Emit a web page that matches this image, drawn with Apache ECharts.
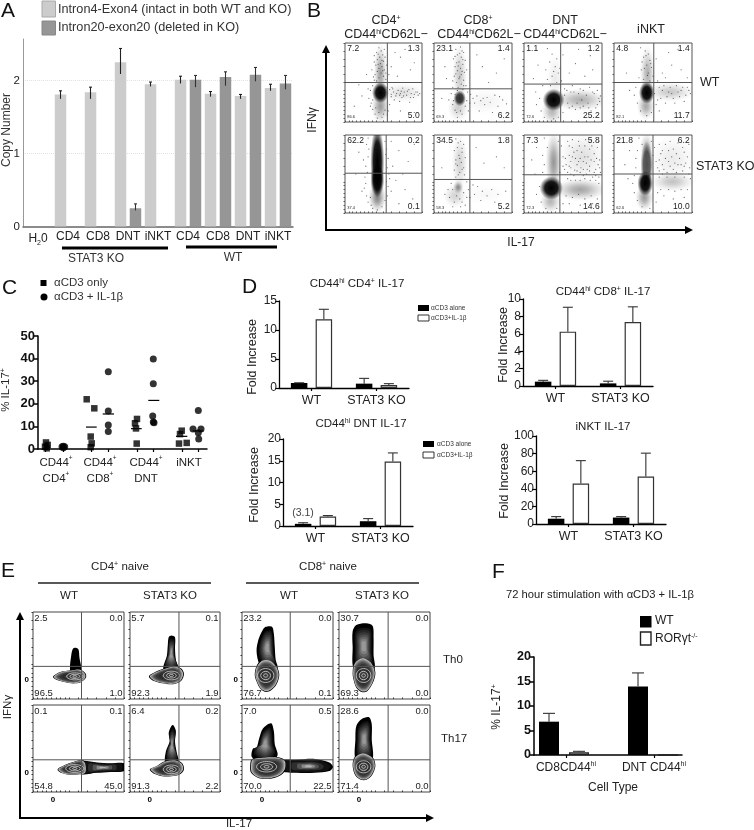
<!DOCTYPE html>
<html><head><meta charset="utf-8">
<style>html,body{margin:0;padding:0;background:#fff}#c{width:754px;height:830px}#c canvas{filter:blur(.35px)}</style>
<script src="https://cdn.jsdelivr.net/npm/echarts@6/dist/echarts.min.js"></script>
</head><body><div id="c"></div>
<script>
/* ---------- Panel A ---------- */
const aCats=['H{sub|2}0','CD4','CD8','DNT','iNKT','CD4','CD8','DNT','iNKT'];
const aIntron4=[null,1.81,1.84,2.25,1.95,2.01,1.82,1.79,1.90];
const aIntron4Low=[null,1.75,1.75,2.09,1.92,1.96,1.78,1.75,1.86];
const aIntron4High=[null,1.86,1.91,2.44,1.98,2.06,1.85,1.81,1.95];
const aIntron20=[null,null,null,0.25,null,2.01,2.05,2.08,1.96];
const aIntron20Low=[null,null,null,0.22,null,1.91,1.93,1.99,1.88];
const aIntron20High=[null,null,null,0.31,null,2.07,2.12,2.18,2.07];
/* ---------- Panel C ---------- */
const cSquares=[[8,2.9],[7,1],[9.7,1.8],[8.7,.3],[48.7,22],[56.3,18],[52.7,5.5],[53.7,2.5],[52.7,.8],[99,13.3],[97,11.4],[98,9.1],[98.7,2.4],[143.7,8.1],[142,6.6],[141,2.4],[148.7,2.7]];
const cCircles=[[25.3,1.2],[24,1],[26.7,1],[25.3,.6],[70.3,34.2],[70.3,16.8],[70.3,10.6],[70.3,7.7],[115.3,39.8],[115.3,28.9],[114.7,14.6],[115.3,12],[116,11.6],[160.3,17],[155,8.8],[163,8.8],[160.3,7.2],[160.7,4.4]];
const cMeans=[[48,58.7,9.7],[64.7,76,15.5],[93,103.7,9],[110.3,121.3,21.5],[138,149.3,5.6],[154.7,165.3,8]];
const cTickPos=[7,25,53,70,99,115,144,160];
const cLabelPos=[18,62,108,151];
const cLabels=['CD44{s|+}\nCD4{s|+}','CD44{s|+}\nCD8{s|+}','CD44{s|+}\nDNT','iNKT'];
/* ---------- Panel D ---------- */
const dCats=['WT','STAT3 KO'];
const d1Alone=[.86,.75], d1AloneErr=[.9,1.66], d1Plus=[11.85,.5], d1PlusErr=[13.57,.75];
const d2Alone=[.5,1.1], d2AloneErr=[.75,1.7], d2Plus=[2.2,14.8], d2PlusErr=[2.4,16.8];
const d3Alone=[.5,.3], d3AloneErr=[.65,.55], d3Plus=[6.25,7.35], d3PlusErr=[9.05,9.1];
const d4Alone=[6,7.3], d4AloneErr=[8.4,8.4], d4Plus=[46,54], d4PlusErr=[72,80.5];
/* ---------- Panel F ---------- */
const fWT=[[15,6.8],[104,14]], fWTErr=[8.5,16.75];
const fRor=[[45,.55],[134,0]], fRorErr=[.75,0];
const fLabelPos=[32,120];
const fLabels=['CD8CD44{s|hi}','DNT CD44{s|hi}'];
/* ---------- Panel B: gates, quadrant percentages, density patches [x,y,rx,ry,alpha], events [x,y] ---------- */
const bGates=[[55,50],[46,42],[47,48],[51,50],[53.5,51],[46,43],[46,49],[50,50]];
const bPct=[['7.2','1.3','5.0','86.6'],['23.1','1.4','6.2','69.3'],['1.1','1.2','25.2','72.6'],['4.8','1.4','11.7','82.1'],
 ['62.2','0.2','0.1','37.4'],['34.5','1.8','5.2','58.3'],['7.3','5.8','14.6','72.3'],['21.8','6.2','10.0','62.6']];
const bPatch1=[[46,62,9,40,.38],[46,20,12,22,.4],[75,37,30,13,.13],[46,37,11,13,1]];
const bPatch2=[[33,60,10,42,.22],[31,18,14,18,.2],[65,26,34,18,.05],[33,30,8,10,.8]];
const bPatch3=[[40,55,12,34,.08],[36,14,14,18,.3],[72,28,36,15,.32],[38,28,14,14,1]];
const bPatch4=[[43,62,10,36,.32],[41,20,12,18,.35],[72,38,32,13,.22],[42,37,10,14,1]];
const bPatch5=[[42,20,12,20,.5],[42,66,9,46,1],[42,42,9,22,1]];
const bPatch6=[[33,65,11,38,.18],[27,22,16,16,.18],[65,24,32,14,.03],[31,33,7,9,.45]];
const bPatch7=[[75,72,33,34,.12],[72,30,36,15,.36],[38,65,11,42,.42],[34,15,14,16,.3],[35,32,15,15,1]];
const bPatch8=[[75,70,32,32,.08],[75,40,30,13,.24],[42,85,9,19,.25],[39,20,12,18,.4],[42,62,8,30,.7],[40,38,10,16,1]];
const bDots1=[[44,94],[47,90],[41,88],[49,85],[45,82],[42,79],[50,77],[46,74],[40,72],[48,70],[44,68],[51,66],[42,64],[47,62],[39,60],[50,58],[44,56],[53,54],[38,53],[36,46],[55,44],[33,40],[58,41],[60,35],[63,38],[66,33],[69,40],[72,36],[74,31],[77,38],[80,34],[83,41],[86,36],[89,31],[92,38],[95,34],[64,28],[71,26],[84,25],[58,22],[34,24],[36,16],[52,15],[39,10],[48,6],[44,12],[55,9],[60,70],[72,82],[85,66],[68,58],[90,75],[78,92],[65,88],[28,60],[22,33],[18,47],[12,20],[90,12],[72,14],[38,84],[51,92],[54,72],[35,66],[57,60],[31,30],[30,42],[61,44],[75,43],[88,42],[43,86],[48,78],[52,82],[38,76],[43,73],[49,65],[37,57],[53,62],[41,52],[36,28],[33,20],[40,18],[50,10],[42,5],[56,14],[62,42],[67,36],[71,34],[76,33],[81,39],[85,31],[90,35],[94,38],[60,32],[73,39],[97,36]];
const bDots2=[[28,92],[34,95],[38,88],[30,85],[35,82],[25,80],[40,78],[32,76],[37,73],[27,70],[34,68],[30,65],[39,63],[35,60],[26,58],[32,55],[38,53],[29,50],[35,48],[41,46],[24,44],[31,44],[37,41],[43,38],[47,35],[22,36],[19,28],[24,22],[27,15],[40,20],[44,14],[36,10],[30,6],[50,30],[55,33],[60,27],[65,22],[68,31],[72,25],[78,34],[82,20],[88,28],[93,23],[58,14],[75,12],[62,70],[80,62],[70,50],[90,80],[55,85],[14,70],[10,30],[16,55],[36,90],[29,75],[42,66],[33,87],[27,83],[37,79],[31,71],[36,64],[28,61],[33,57],[24,52],[38,46],[30,40],[27,35],[25,27],[29,12],[34,14],[42,27],[46,24],[52,24],[63,30],[84,32]];
const bDots3=[[30,93],[36,86],[42,80],[33,76],[40,70],[28,66],[44,62],[36,58],[30,54],[42,50],[24,46],[48,52],[58,62],[66,74],[78,58],[88,66],[62,46],[72,42],[84,44],[94,40],[52,42],[58,18],[66,16],[76,20],[86,14],[94,22],[70,36],[80,34],[90,36],[60,38],[20,30],[16,22],[22,14],[26,6],[44,6],[38,4],[50,12],[15,38],[12,55],[18,72],[50,85],[70,92],[85,84],[96,30],[46,68],[56,24],[68,24],[82,24],[92,18],[74,28],[52,34],[55,40],[64,38],[76,40],[88,38],[98,33],[62,20],[72,18],[83,18],[97,26],[38,64],[34,46]];
const bDots4=[[34,94],[40,90],[44,86],[38,82],[46,78],[36,76],[42,72],[48,69],[35,66],[44,62],[50,58],[32,56],[38,54],[46,52],[28,44],[26,34],[30,24],[34,14],[42,8],[48,12],[54,22],[60,30],[64,46],[68,32],[72,44],[76,30],[80,46],[84,32],[88,44],[92,34],[96,40],[58,44],[56,52],[66,24],[78,24],[90,26],[62,62],[74,72],[86,66],[70,88],[82,92],[94,56],[54,80],[20,40],[16,62],[52,36],[70,38],[82,38],[66,56],[58,14],[41,84],[47,74],[39,68],[43,59],[62,40],[74,36],[86,40],[94,44],[98,36],[56,28]];
const bDots5=[[30,96],[52,92],[54,82],[28,88],[56,70],[30,72],[27,60],[55,58],[58,44],[26,46],[25,32],[56,34],[60,28],[28,22],[30,14],[52,16],[48,8],[36,6],[42,4],[62,60],[70,80],[82,66],[90,88],[66,42],[78,30],[88,18],[70,12],[18,78],[14,50],[22,28],[60,92],[75,50],[34,10],[55,22],[24,68],[57,50],[31,82],[53,75],[29,52],[54,40],[27,38],[33,20]];
const bDots6=[[28,95],[34,92],[38,88],[30,84],[26,80],[36,78],[32,74],[40,71],[28,68],[35,65],[30,61],[38,58],[26,55],[33,52],[39,49],[28,46],[35,43],[42,40],[22,38],[18,30],[14,24],[20,20],[26,14],[33,18],[38,26],[44,30],[50,36],[56,34],[62,28],[68,22],[74,30],[82,24],[92,28],[60,16],[78,14],[64,64],[80,72],[90,58],[54,84],[10,58],[40,10],[34,8],[24,8],[46,20],[31,90],[36,83],[33,70],[28,63],[36,56],[31,49],[24,30],[29,22],[36,14],[42,20],[52,24]];
const bDots7=[[26,96],[44,92],[30,84],[48,86],[24,74],[50,72],[26,62],[50,60],[24,52],[46,52],[56,92],[62,84],[70,92],[78,86],[86,94],[94,84],[58,74],[66,70],[74,78],[82,72],[90,76],[97,68],[54,62],[60,58],[68,62],[76,56],[84,60],[92,56],[98,52],[56,52],[64,48],[72,52],[80,50],[88,46],[96,46],[54,22],[62,20],[70,24],[78,18],[86,22],[94,18],[58,12],[72,10],[88,12],[20,34],[16,24],[22,14],[28,6],[42,6],[50,12],[14,50],[10,68],[16,84],[68,80],[80,64],[60,66],[72,70],[90,66],[62,94],[76,66],[84,82],[96,92],[56,44],[66,42],[78,44],[92,42],[58,86],[64,78],[71,86],[79,94],[87,86],[93,70],[53,70],[62,72],[70,66],[78,72],[86,68],[95,62],[58,60],[65,55],[73,58],[81,56],[90,52],[97,58],[52,56],[60,50],[68,54],[76,48],[84,54],[92,48],[60,42],[72,42],[85,42],[96,38]];
const bDots8=[[32,96],[48,92],[36,88],[52,84],[30,80],[50,74],[28,70],[54,66],[28,58],[56,58],[26,48],[24,38],[26,26],[30,16],[36,8],[46,6],[54,14],[56,26],[58,54],[62,62],[68,52],[72,60],[76,82],[80,52],[84,70],[88,54],[92,64],[96,50],[60,76],[66,88],[74,72],[82,90],[90,78],[96,88],[62,50],[70,30],[78,28],[86,30],[94,30],[64,22],[76,18],[90,20],[18,44],[14,62],[20,80],[66,70],[78,64],[86,62],[58,88],[72,92],[94,72],[60,30],[58,68],[64,56],[70,66],[76,56],[82,62],[90,60],[97,58],[62,80],[70,80],[80,76],[88,84],[58,46],[68,46],[78,46],[90,46],[98,44]];
/* ---------- Panel E: gates, percentages, contour outlines, ring centres [x,y,rx,ry] ---------- */
const eGates=[[53.3,37.5],[54.4,37.5],[53,37.5],[54,37.5],[53.3,37],[54.4,37],[53,37],[54,37]];
const ePct=[['2.5','0.0','1.0','96.5'],['5.7','0.1','1.9','92.3'],['23.2','0.0','0.1','76.7'],['30.7','0.0','0.0','69.3'],
 ['0.1','0.1','45.0','54.8'],['6.4','0.2','2.2','91.3'],['7.0','0.5','22.5','70.0'],['28.6','0.0','0.0','71.4']];
const eCol1=[[41,32],[42,50],[44,58],[47,59],[50,57],[51,48],[53,32],[47,25]];
const eCore1=[[22,26],[30,31],[42,33],[52,34],[58,29],[58,24],[52,19],[42,18],[32,20],[24,23]];
const eRing1=[[46,26,9,4]];
const eCol2=[[37,34],[41,50],[42,62],[43,71],[46,73],[50,71],[50,58],[51,45],[54,34],[46,26]];
const eCore2=[[21,26],[28,31],[38,35],[50,38],[57,35],[60,29],[57,21],[48,17],[36,18],[26,21]];
const eRing2=[[46,27,9,5]];
const eCol3=[[19,40],[16,55],[18,68],[22,78],[26,83],[33,83],[35,75],[36,60],[37,45],[39,35],[26,30]];
const eCore3=[[14,28],[16,38],[22,45],[31,45],[38,38],[41,28],[38,17],[32,10],[26,8],[20,12],[16,20]];
const eRing3=[[26,27,9,8]];
const eCol4=[[16,35],[15,60],[15,78],[19,85],[30,87],[37,84],[38,70],[38,50],[39,35],[27,28]];
const eCore4=[[15,30],[17,42],[26,48],[36,42],[40,30],[37,18],[31,9],[25,8],[19,13],[16,22]];
const eRing4=[[27,27,8,8]];
const eCore5=[[27,26],[35,31],[46,35],[54,37],[58,33],[58,22],[48,20],[38,20],[31,22]];
const eTail5=[[52,35],[70,34],[85,33],[100,33],[100,24],[85,23],[70,22],[52,21]];
const eRing5=[[46,27,10,4.5]];
const eCol6=[[39,34],[40,47],[44,58],[43,68],[46,76],[48,77],[51,70],[50,58],[52,45],[54,34],[46,26]];
const eCore6=[[22,26],[30,30],[38,35],[50,37],[58,33],[60,26],[55,20],[46,18],[36,18],[27,21]];
const eRing6=[[46,26,9,5]];
const eCol7=[[11,40],[12,50],[16,51],[19,62],[23,73],[32,79],[35,70],[36,55],[39,42],[27,30]];
const eCore7=[[9,30],[11,38],[25,40],[40,40],[48,36],[48,26],[42,19],[30,15],[18,16],[10,22]];
const eTail7=[[44,36],[60,37],[80,38],[96,34],[100,29],[96,24],[80,22],[60,22],[44,24]];
const eRing7=[[27,29,11,6]];
const eCol8=[[18,38],[18,60],[19,76],[25,84],[33,86],[36,78],[36,60],[37,38],[27,30]];
const eCore8=[[15,30],[17,40],[26,45],[37,40],[40,30],[36,19],[30,14],[24,14],[18,19]];
const eRing8=[[27,29,8,7]];

/* ---------- helpers ---------- */
const FF='Liberation Sans, Arial, sans-serif';
const RICH={s:{fontSize:7,fontFamily:FF,fill:'#222',verticalAlign:'top',lineHeight:13}};
function T(x,y,text,o){o=o||{};return {type:'text',x:x,y:y,rotation:o.rot||0,silent:true,z:50,style:{text:text,fill:o.c||'#222',
  fontFamily:o.f||FF,fontSize:o.s||12,fontWeight:o.w||'normal',align:o.a||'center',textAlign:o.a||'center',verticalAlign:'middle',textVerticalAlign:'middle',rich:RICH}};}
function R(x,y,w,h,fill,stroke,lw){return {type:'rect',silent:true,z:50,shape:{x:x,y:y,width:w,height:h},style:{fill:fill,stroke:stroke||null,lineWidth:lw||0}};}
function Ln(x1,y1,x2,y2,lw,c){return {type:'line',silent:true,z:50,shape:{x1:x1,y1:y1,x2:x2,y2:y2},style:{stroke:c||'#000',lineWidth:lw}};}
function Arrow(x1,y1,x2,y2){const s=[];s.push(Ln(x1,y1,x2,y2,2));
  const dx=Math.sign(x2-x1),dy=Math.sign(y2-y1);
  const pts=dx?[[x2+dx*2,y2],[x2-dx*6,y2-4],[x2-dx*6,y2+4]]:[[x2,y2+dy*2],[x2-4,y2-dy*6],[x2+4,y2-dy*6]];
  s.push({type:'polygon',silent:true,z:50,shape:{points:pts},style:{fill:'#000'}});return s;}
const grids=[],xAxes=[],yAxes=[],series=[];
function addGrid(l,t,r,b,x,y,extra){const i=grids.length;grids.push(Object.assign({left:l,top:t,width:r-l,height:b-t,containLabel:false},extra||{}));
  xAxes.push(Object.assign({gridIndex:i},x));yAxes.push(Object.assign({gridIndex:i},y));return i;}
function errSeries(i,data,off,col,capW){const d=data.filter(e=>e[2]!=null&&e[2]>e[1]);
  return {type:'custom',xAxisIndex:i,yAxisIndex:i,silent:true,z:5,data:d,encode:{x:0,y:2},
   renderItem:function(p,api){const e=d[p.dataIndex];const a=api.coord([e[0],e[1]]),b=api.coord([e[0],e[2]]);const x=a[0]+off;const w=capW||2.5;
     const st={stroke:col||'#222',lineWidth:1.1};
     return {type:'group',children:[{type:'line',shape:{x1:x,y1:a[1],x2:x,y2:b[1]},style:st},{type:'line',shape:{x1:x-w,y1:b[1],x2:x+w,y2:b[1]},style:st}]};}};}

/* ---------- Panel A chart ---------- */
const iA=addGrid(23,39,293,226.5,
 {type:'category',data:aCats,axisLine:{lineStyle:{color:'#666',width:1.5}},axisTick:{show:false},
  axisLabel:{interval:0,fontSize:12,fontFamily:FF,color:'#222',margin:4,rich:{sub:{fontSize:7,fontFamily:FF,color:'#222',verticalAlign:'bottom',lineHeight:16}}}},
 {type:'value',min:0,max:2.57,interval:1,axisLine:{show:true,onZero:false,lineStyle:{color:'#999',width:1}},axisTick:{show:false},
  axisLabel:{customValues:[0,1,2],fontSize:11.5,fontFamily:FF,color:'#222',margin:3},
  splitLine:{show:true,showMinLine:false,showMaxLine:false,lineStyle:{color:'#e2e2e2',type:'dotted',width:1}}});
series.push({type:'bar',xAxisIndex:iA,yAxisIndex:iA,data:aIntron4,barWidth:11.5,barGap:'30%',itemStyle:{color:'#cccccc'},silent:true});
series.push({type:'bar',xAxisIndex:iA,yAxisIndex:iA,data:aIntron20,barWidth:11.5,barGap:'30%',itemStyle:{color:'#969696'},silent:true});
series.push(errSeries(iA,aIntron4.map((v,k)=>[k,aIntron4Low[k],aIntron4High[k]]),-7.5,'#222',1.5));
series.push(errSeries(iA,aIntron20.map((v,k)=>[k,aIntron20Low[k],aIntron20High[k]]),7.5,'#333',1.5));

/* ---------- flow panels ---------- */
const bAreas=[[345,43,422,122],[434,43,512,122],[524,43,602,122],[614,43,692,122],[345,135,422,213],[434,135,512,213],[524,135,602,213],[614,135,692,213]];
const bPatches=[bPatch1,bPatch2,bPatch3,bPatch4,bPatch5,bPatch6,bPatch7,bPatch8];
const bDots=[bDots1,bDots2,bDots3,bDots4,bDots5,bDots6,bDots7,bDots8];
const solidFill={type:'radial',x:.5,y:.5,r:.5,colorStops:[{offset:0,color:'rgba(0,0,0,1)'},{offset:.55,color:'rgba(0,0,0,.9)'},{offset:.82,color:'rgba(0,0,0,.35)'},{offset:1,color:'rgba(0,0,0,0)'}]};
const hazeFill={type:'radial',x:.5,y:.5,r:.5,colorStops:[{offset:0,color:'rgba(0,0,0,1)'},{offset:.3,color:'rgba(0,0,0,.75)'},{offset:.6,color:'rgba(0,0,0,.35)'},{offset:.85,color:'rgba(0,0,0,.08)'},{offset:1,color:'rgba(0,0,0,0)'}]};
const flowTicks=[0,5,10,15,20,25,30,35,40,50,60,70,80,90,100];
function flowAxes(lblX,lblY,len,col){
 return [{type:'value',min:0,max:100,axisLine:{show:false},splitLine:{show:false},axisTick:{show:true,inside:true,length:len,customValues:flowTicks,lineStyle:{color:col||'#444',width:1}},
   axisLabel:lblX?{show:true,customValues:[22],formatter:()=>'0',fontSize:8,fontWeight:'bold',fontFamily:FF,color:'#000',margin:4}:{show:false}},
  {type:'value',min:0,max:100,axisLine:{show:false},splitLine:{show:false},axisTick:{show:true,inside:false,length:len,customValues:flowTicks,lineStyle:{color:col||'#444',width:1}},
   axisLabel:lblY?{show:true,customValues:[21.5],formatter:()=>'0',fontSize:8,fontWeight:'bold',fontFamily:FF,color:'#000',margin:4}:{show:false}}];
}
function overlay(i,gate,pct,fs,tinyFs,inX,topY,botY){
 return {type:'custom',xAxisIndex:i,yAxisIndex:i,silent:true,z:8,data:[[gate[0],gate[1]]],clip:false,
  renderItem:function(p,api){
   const a=api.coord([gate[0],0]),b=api.coord([gate[0],100]),c=api.coord([0,gate[1]]),d=api.coord([100,gate[1]]);
   const st={stroke:'#555',lineWidth:1};
   const tx=(xv,yv,s,al,size)=>{const q=api.coord([xv,yv]);return {type:'text',style:{text:s,x:q[0],y:q[1],align:al,textAlign:al,verticalAlign:'middle',textVerticalAlign:'middle',fontSize:size,fontFamily:FF,fill:'#222'}};};
   return {type:'group',children:[{type:'line',shape:{x1:a[0],y1:a[1],x2:b[0],y2:b[1]},style:st},{type:'line',shape:{x1:c[0],y1:c[1],x2:d[0],y2:d[1]},style:st},
    tx(inX,topY,pct[0],'left',fs),tx(100-inX,topY,pct[1],'right',fs),tx(100-inX,botY,pct[2],'right',fs),tx(inX,tinyFs<6?6:botY,pct[3],'left',tinyFs)]};
  }};
}
bAreas.forEach((a,k)=>{
 const ax=flowAxes(false,false,1.5,'#555');
 const i=addGrid(a[0],a[1],a[2],a[3],ax[0],ax[1],{show:true,borderColor:'#555',borderWidth:1,backgroundColor:'#fff'});
 const patches=bPatches[k];
 series.push({type:'custom',xAxisIndex:i,yAxisIndex:i,silent:true,z:2,clip:true,data:patches,encode:{x:0,y:1},
  renderItem:function(p,api){const d=patches[p.dataIndex];const c=api.coord([d[0],d[1]]);const u=api.size([1,1]);
   return {type:'circle',x:c[0],y:c[1],scaleX:d[2]*u[0]/10,scaleY:d[3]*u[1]/10,shape:{cx:0,cy:0,r:10},style:{fill:d[4]>=.7?solidFill:hazeFill,opacity:d[4]}};}});
 series.push({type:'scatter',xAxisIndex:i,yAxisIndex:i,silent:true,z:3,symbolSize:1.2,itemStyle:{color:'#333',opacity:.75},data:bDots[k]});
 series.push(overlay(i,bGates[k],bPct[k],8.5,4,3,92.5,8));
});

/* ---------- Panel C chart ---------- */
const boldAxis=(extra)=>Object.assign({type:'value',axisLine:{show:true,lineStyle:{color:'#000',width:1.5}},axisTick:{show:true,length:4,lineStyle:{color:'#000',width:1.5}},splitLine:{show:false}},extra);
const iC=addGrid(38,336,207,449,
 boldAxis({min:0,max:169,axisTick:{show:true,length:3,customValues:cTickPos,lineStyle:{color:'#000',width:1.2}},
  axisLabel:{customValues:cLabelPos,formatter:(v)=>cLabels[cLabelPos.indexOf(v)],fontSize:11.5,fontFamily:FF,color:'#222',margin:6,lineHeight:16,align:'center',
   rich:{s:{fontSize:6.5,fontFamily:FF,color:'#222',verticalAlign:'top',lineHeight:14}}}}),
 boldAxis({min:0,max:50,interval:10,axisLabel:{fontSize:13,fontWeight:'bold',fontFamily:FF,color:'#111',margin:3}}));
series.push({type:'scatter',xAxisIndex:iC,yAxisIndex:iC,symbol:'rect',symbolSize:6.5,itemStyle:{color:'#000'},data:cSquares,silent:true,clip:false});
series.push({type:'scatter',xAxisIndex:iC,yAxisIndex:iC,symbol:'circle',symbolSize:7,itemStyle:{color:'#000'},data:cCircles,silent:true,clip:false});
series.push({type:'custom',xAxisIndex:iC,yAxisIndex:iC,silent:true,data:cMeans,encode:{x:[0,1],y:2},
 renderItem:function(p,api){const e=cMeans[p.dataIndex];const a=api.coord([e[0],e[2]]),b=api.coord([e[1],e[2]]);
  return {type:'line',shape:{x1:a[0],y1:a[1],x2:b[0],y2:b[1]},style:{stroke:'#000',lineWidth:1.2}};}});

/* ---------- Panel D charts ---------- */
const dPanels=[
 {a:[279,301,409,388],max:15,iv:5,alone:d1Alone,aE:d1AloneErr,plus:d1Plus,pE:d1PlusErr},
 {a:[283,439,413,526],max:20,iv:5,alone:d2Alone,aE:d2AloneErr,plus:d2Plus,pE:d2PlusErr},
 {a:[523,299,653,386],max:10,iv:2,alone:d3Alone,aE:d3AloneErr,plus:d3Plus,pE:d3PlusErr},
 {a:[536,436,666,524],max:100,iv:20,alone:d4Alone,aE:d4AloneErr,plus:d4Plus,pE:d4PlusErr}];
dPanels.forEach(P=>{
 const a=P.a;
 const i=addGrid(a[0],a[1],a[2],a[3],
  {type:'category',data:dCats,axisLine:{lineStyle:{color:'#000',width:1.3}},axisTick:{show:true,alignWithLabel:true,length:3,lineStyle:{color:'#000',width:1.2}},
   axisLabel:{interval:0,fontSize:12.5,fontFamily:FF,color:'#222',margin:6}},
  {type:'value',min:0,max:P.max,interval:P.iv,axisLine:{show:true,lineStyle:{color:'#000',width:1.3}},axisTick:{show:true,length:4,lineStyle:{color:'#000',width:1.2}},splitLine:{show:false},
   axisLabel:{fontSize:12,fontFamily:FF,color:'#222',margin:2}});
 series.push({type:'bar',xAxisIndex:i,yAxisIndex:i,data:P.alone,barWidth:16.5,barGap:'50%',itemStyle:{color:'#000'},silent:true});
 series.push({type:'bar',xAxisIndex:i,yAxisIndex:i,data:P.plus,barWidth:16.5,barGap:'50%',itemStyle:{color:'#fff',borderColor:'#333',borderWidth:1.2},silent:true});
 series.push(errSeries(i,P.alone.map((v,k)=>[k,v,P.aE[k]]),-12.35,'#333',5));
 series.push(errSeries(i,P.plus.map((v,k)=>[k,v,P.pE[k]]),12.35,'#333',5));
});

/* ---------- Panel E ---------- */
const eAreas=[[33,612,124,699],[130,612,220,699],[242,612,333,699],[339,612,430,699],[33,705,124,792],[130,705,220,792],[242,705,333,792],[339,705,430,792]];
const eCols=[[eCol1],[eCol2],[eCol3],[eCol4],[],[eCol6],[eCol7],[eCol8]];
const eCores=[[eCore1],[eCore2],[eCore3],[eCore4],[eCore5],[eCore6],[eCore7],[eCore8]];
const eTails=[[],[],[],[],[eTail5],[],[eTail7],[]];
const eRings=[eRing1,eRing2,eRing3,eRing4,eRing5,eRing6,eRing7,eRing8];
const colLevels=[[.8,'#141414'],[.7,'#262626'],[.6,'#383838'],[.5,'#4c4c4c'],[.4,'#646464'],[.3,'#7e7e7e'],[.2,'#989898']];
const coreLevels=[[.95,'#b8b8b8'],[.89,'#8c8c8c'],[.82,'#646464'],[.74,'#484848'],[.64,'#343434'],[.5,'#2a2a2a'],[.34,'#3a3a3a']];
const tailLevels=[[.88,'#111'],[.62,'#2e2e2e'],[.42,'#555'],[.26,'#8a8a8a'],[.13,'#b4b4b4']];
function centroid(pts){let x=0,y=0;pts.forEach(p=>{x+=p[0];y+=p[1];});return [x/pts.length,y/pts.length];}
eAreas.forEach((a,k)=>{
 const ax=flowAxes(k>=4,(k==0||k==2||k==4||k==6),1.5,'#333');
 const i=addGrid(a[0],a[1],a[2],a[3],ax[0],ax[1],{show:true,borderColor:'#444',borderWidth:1,backgroundColor:'#fff'});
 const cols=eCols[k],cores=eCores[k],tails=eTails[k],rings=eRings[k];
 series.push({type:'custom',xAxisIndex:i,yAxisIndex:i,silent:true,z:2,clip:true,data:[[50,50]],
  renderItem:function(p,api){
   const out=[];
   const poly=(pts,c,f,col)=>({type:'polygon',shape:{points:pts.map(q=>api.coord([c[0]+(q[0]-c[0])*f,c[1]+(q[1]-c[1])*f])),smooth:.3},style:{fill:col,stroke:null}});
   cols.concat(cores,tails).forEach(pts=>out.push(poly(pts,centroid(pts),1,'#000')));
   if(k!==0) cols.forEach(pts=>{const c=centroid(pts);colLevels.forEach(l=>out.push(poly(pts,c,l[0],l[1])));});
   tails.forEach(pts=>{const c=centroid(pts);tailLevels.forEach(l=>out.push(poly(pts,c,l[0],l[1])));});
   cores.forEach(pts=>{const c=centroid(pts);coreLevels.forEach(l=>out.push(poly(pts,c,l[0],l[1])));});
   rings.forEach(r=>{const c=api.coord([r[0],r[1]]);const u=api.size([1,1]);
     [1,.6,.25].forEach(f=>out.push({type:'ellipse',shape:{cx:c[0],cy:c[1],rx:r[2]*u[0]*f,ry:r[3]*u[1]*f},style:{fill:'none',stroke:'#d8d8d8',lineWidth:.8}}));});
   return {type:'group',children:out};
  }});
 series.push(overlay(i,eGates[k],ePct[k],9.5,9.5,1.5,93,6.5));
});

/* ---------- Panel F chart ---------- */
const iF=addGrid(534,657,682,755,
 boldAxis({min:0,max:148,axisTick:{show:true,length:3,customValues:fLabelPos,lineStyle:{color:'#000',width:1.2}},
  axisLabel:{customValues:fLabelPos,formatter:(v)=>fLabels[fLabelPos.indexOf(v)],fontSize:12,fontFamily:FF,color:'#222',margin:6,
   rich:{s:{fontSize:7,fontFamily:FF,color:'#222',verticalAlign:'top',lineHeight:14}}}}),
 boldAxis({min:0,max:20,interval:5,axisLabel:{fontSize:12.5,fontWeight:'bold',fontFamily:FF,color:'#111',margin:3}}));
series.push({type:'bar',xAxisIndex:iF,yAxisIndex:iF,data:fWT,barWidth:20,barGap:'-100%',itemStyle:{color:'#000'},silent:true});
series.push({type:'bar',xAxisIndex:iF,yAxisIndex:iF,data:fRor,barWidth:20,barGap:'-100%',itemStyle:{color:'#fff',borderColor:'#222',borderWidth:1.3},silent:true});
series.push(errSeries(iF,fWT.map((v,k)=>[v[0],v[1],fWTErr[k]]),0,'#333',6));
series.push(errSeries(iF,fRor.map((v,k)=>[v[0],v[1],fRorErr[k]]),0,'#333',6));

/* ---------- text, legends, arrows ---------- */
const g=[];
[['A',1,11],['B',307,11],['C',2,288],['D',242,287],['E',1,571],['F',492,572]].forEach(l=>g.push(T(l[1],l[2],l[0],{s:21,a:'left',c:'#111'})));
/* A */
g.push(R(42,1,13.5,16,'#cccccc','#aaa',1),R(42,21,13.5,14,'#969696','#888',1));
g.push(T(58,9,'Intron4-Exon4 (intact in both WT and KO)',{a:'left',s:12.7,c:'#333'}),T(58,27,'Intron20-exon20 (deleted in KO)',{a:'left',s:12.7,c:'#333'}));
g.push(T(7,130,'Copy Number',{rot:Math.PI/2,s:12,c:'#333'}));
g.push(Ln(62,248,168,248,3),Ln(186,247,277,247,3));
g.push(T(96,259,'STAT3 KO',{s:12,c:'#333'}),T(233,258,'WT',{s:12,c:'#333'}));
/* B */
[[386,'CD4{s|+}'],[478,'CD8{s|+}'],[565,'DNT']].forEach(h=>g.push(T(h[0],21,h[1],{s:12.5})));
[386,479,565].forEach(x=>g.push(T(x,35,'CD44{s|hi}CD62L−',{s:12.5})));
g.push(T(651,30,'iNKT',{s:12.5}));
g.push(T(700,83,'WT',{a:'left',s:12.5}),T(696,167,'STAT3 KO',{a:'left',s:12.5}));
g.push(T(313,120,'IFNγ',{rot:Math.PI/2,s:12}),T(521,243,'IL-17',{s:12}));
g.push(...Arrow(326,231,326,47),...Arrow(326,230,691,230));
/* C */
g.push(R(40.5,280,6,6,'#000'),{type:'circle',silent:true,z:50,shape:{cx:44,cy:297,r:3.5},style:{fill:'#000'}});
g.push(T(54,283,'αCD3 only',{a:'left',s:11.5,c:'#333'}),T(54,297,'αCD3 + IL-1β',{a:'left',s:11.5,c:'#333'}));
g.push(T(6,390,'% IL-17{s|+}',{rot:Math.PI/2,s:11.5}));
/* D */
[[357,284,'CD44{s|hi} CD4{s|+} IL-17'],[361,424,'CD44{s|hi} DNT IL-17'],[603,292,'CD44{s|hi} CD8{s|+} IL-17'],[603,427,'iNKT IL-17']].forEach(h=>g.push(T(h[0],h[1],h[2],{s:11.5})));
[[253,357],[255,485],[504,345],[505,481]].forEach(h=>g.push(T(h[0],h[1],'Fold Increase',{rot:Math.PI/2,s:12.5})));
g.push(T(303,513,'(3.1)',{s:10.5,c:'#444'}));
[[418,308,318,431],[423,444,455,437]].forEach(l=>{
 g.push(R(l[0],l[1]-3,11,6,'#000'),R(l[0],l[2]-3,11,6,'#fff','#333',1));
 g.push(T(l[3],l[1],'αCD3 alone',{a:'left',s:6.5,c:'#333'}),T(l[3],l[2],'αCD3+IL-1β',{a:'left',s:6.5,c:'#333'}));
});
/* E */
g.push(T(120,567,'CD4{s|+} naive',{s:11.5}),T(328,567,'CD8{s|+} naive',{s:11.5}));
g.push(Ln(38,583,211,583,1.5,'#222'),Ln(246,583,419,583,1.5,'#222'));
[[69,'WT'],[170,'STAT3 KO'],[289,'WT'],[382,'STAT3 KO']].forEach(h=>g.push(T(h[0],596,h[1],{s:11.5})));
g.push(T(443,660,'Th0',{a:'left',s:11.5}),T(441,739,'Th17',{a:'left',s:11.5}));
g.push(T(8,707,'IFNγ',{rot:Math.PI/2,s:11.5}),T(239,824,'IL-17',{s:11.5}));
g.push(...Arrow(20,818,20,614),...Arrow(19,818,432,818));
/* F */
g.push(T(506,595,'72 hour stimulation with αCD3 + IL-1β',{a:'left',s:11.2}));
g.push(R(640,616,11.5,11.5,'#000'),R(640.5,632,10.5,13,'#fff','#222',1.4));
g.push(T(655,621,'WT',{a:'left',s:12}),T(655,639,'RORγt{s|-/-}',{a:'left',s:12}));
g.push(T(497,707,'% IL-17{s|+}',{rot:Math.PI/2,s:12}),T(613,788,'Cell Type',{s:12}));

const chart=echarts.init(document.getElementById('c'),null,{renderer:'canvas'});
chart.setOption({animation:false,backgroundColor:'#fff',grid:grids,xAxis:xAxes,yAxis:yAxes,series:series,graphic:{elements:g},tooltip:{show:false}});
</script></body></html>
